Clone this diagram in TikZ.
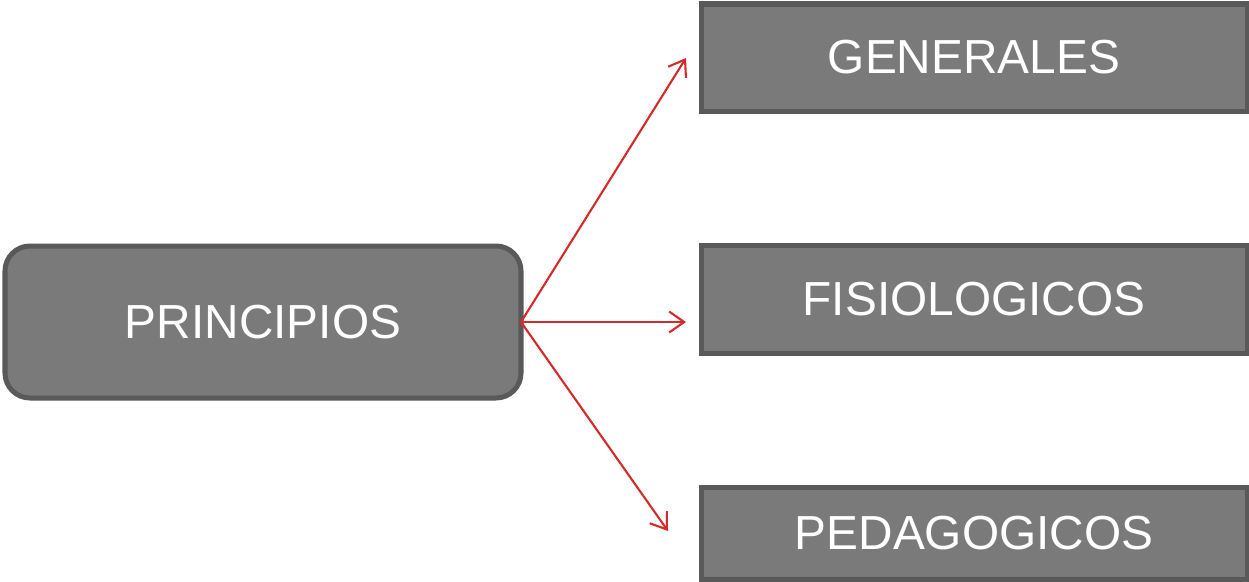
\documentclass[tikz,border=0pt]{standalone}
\usepackage{fontspec}
\setmainfont{Liberation Sans}
\usetikzlibrary{arrows.meta}
\definecolor{boxfill}{HTML}{7A7A7A}
\definecolor{boxline}{HTML}{595959}
\definecolor{arrred}{HTML}{D42A2A}
\begin{document}
\begin{tikzpicture}[x=0.02cm,y=-0.02cm,
  box/.style={draw=boxline, fill=boxfill, line width=2.85pt, text=white,
    font=\fontsize{27.2}{33}\selectfont, inner sep=0pt},
  conn/.style={draw=arrred, line width=1.2pt,
    -{Straight Barb[length=0.3cm,width=0.42cm,line width=1.2pt]}}]
\useasboundingbox (0,0) rectangle (1249,582);
\node[box, rounded corners=0.5cm, minimum width=516*0.02cm, minimum height=152*0.02cm] (p) at (263,322) {PRINCIPIOS};
\node[box, minimum width=546*0.02cm, minimum height=107*0.02cm] (g) at (974,57.5) {GENERALES};
\node[box, minimum width=546*0.02cm, minimum height=108*0.02cm] (f) at (974,299) {FISIOLOGICOS};
\node[box, minimum width=546*0.02cm, minimum height=92*0.02cm] (d) at (974,533) {PEDAGOGICOS};
\coordinate (s) at (521,322);
\coordinate (eg) at (686,58);
\coordinate (ef) at (686,322);
\coordinate (ed) at (668,531);
\draw[conn] (s) -- (eg);
\draw[conn] (s) -- (ef);
\draw[conn] (s) -- (ed);
\end{tikzpicture}
\end{document}
